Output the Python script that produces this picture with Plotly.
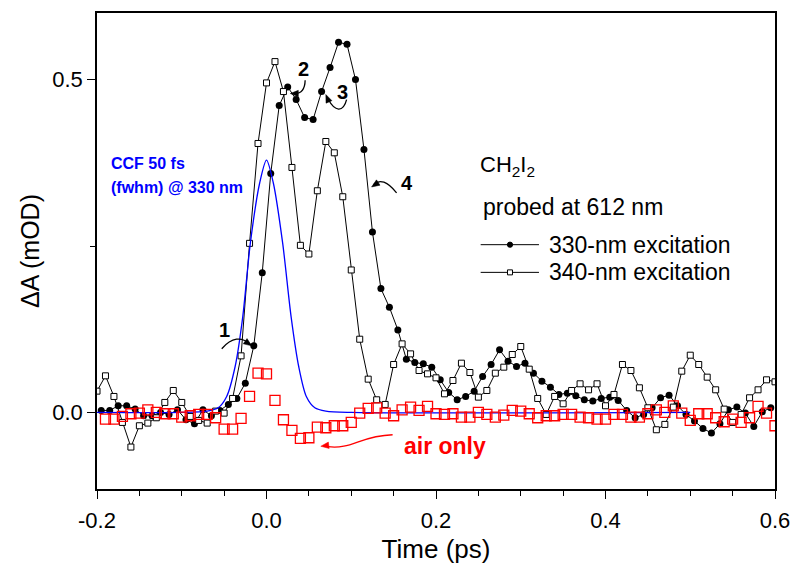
import math
import plotly.graph_objects as go

# ---- 330-nm excitation (filled circles) ----
t330 = [-0.195, -0.185, -0.175, -0.165, -0.155, -0.145, -0.135, -0.125, -0.115, -0.105,
        -0.095, -0.085, -0.075, -0.065, -0.055, -0.045, -0.035, -0.025, -0.015, -0.005,
        0.005, 0.015, 0.025, 0.035, 0.045, 0.055, 0.065, 0.075, 0.085, 0.095,
        0.105, 0.115, 0.125, 0.135, 0.145, 0.155, 0.165, 0.175, 0.185, 0.195,
        0.205, 0.215, 0.225, 0.235, 0.245, 0.255, 0.265, 0.275, 0.285, 0.295,
        0.305, 0.315, 0.325, 0.335, 0.345, 0.355, 0.365, 0.375, 0.385, 0.395,
        0.405, 0.415, 0.425, 0.435, 0.445, 0.455, 0.465, 0.475, 0.485, 0.495,
        0.505, 0.515, 0.525, 0.535, 0.545, 0.555, 0.565, 0.575, 0.585, 0.595]
dA330 = [0.003, 0.003, 0.010, 0.010, 0.005, -0.005, -0.005, 0.000, -0.003, 0.004,
         -0.011, -0.017, 0.004, -0.005, 0.003, 0.012, 0.021, 0.044, 0.100, 0.210,
         0.359, 0.461, 0.489, 0.470, 0.443, 0.440, 0.482, 0.518, 0.556, 0.553,
         0.500, 0.395, 0.271, 0.186, 0.158, 0.124, 0.080, 0.075, 0.073, 0.068,
         0.049, 0.030, 0.019, 0.024, 0.032, 0.054, 0.072, 0.094, 0.077, 0.069,
         0.074, 0.059, 0.047, 0.038, 0.027, 0.029, 0.025, 0.019, 0.017, 0.021,
         0.023, 0.018, 0.003, -0.008, -0.003, 0.007, 0.022, 0.026, 0.010, -0.003,
         -0.013, -0.024, -0.031, -0.017, 0.004, 0.008, -0.001, -0.021, 0.001, 0.007]

# ---- 340-nm excitation (open squares) ----
t340 = [-0.20, -0.19, -0.18, -0.17, -0.16, -0.15, -0.14, -0.13, -0.12, -0.11,
        -0.10, -0.09, -0.08, -0.07, -0.06, -0.05, -0.04, -0.03, -0.02, -0.01,
        0.00, 0.01, 0.02, 0.03, 0.04, 0.05, 0.06, 0.07, 0.08, 0.09,
        0.10, 0.11, 0.12, 0.13, 0.14, 0.15, 0.16, 0.17, 0.18, 0.19,
        0.20, 0.21, 0.22, 0.23, 0.24, 0.25, 0.26, 0.27, 0.28, 0.29,
        0.30, 0.31, 0.32, 0.33, 0.34, 0.35, 0.36, 0.37, 0.38, 0.39,
        0.40, 0.41, 0.42, 0.43, 0.44, 0.45, 0.46, 0.47, 0.48, 0.49,
        0.50, 0.51, 0.52, 0.53, 0.54, 0.55, 0.56, 0.57, 0.58, 0.59, 0.60]
dA340 = [0.032, 0.055, 0.024, -0.015, -0.052, -0.020, -0.016, -0.008, 0.015, 0.033,
         0.015, -0.006, -0.012, -0.016, 0.002, -0.001, 0.021, 0.085, 0.254, 0.404,
         0.495, 0.527, 0.482, 0.368, 0.251, 0.238, 0.333, 0.407, 0.390, 0.324,
         0.214, 0.110, 0.050, 0.019, 0.012, 0.072, 0.103, 0.088, 0.063, 0.058,
         0.052, 0.028, 0.048, 0.074, 0.060, 0.023, 0.033, 0.059, 0.068, 0.087,
         0.099, 0.065, 0.021, -0.003, 0.024, 0.013, 0.033, 0.043, 0.034, 0.043,
         0.010, 0.027, 0.072, 0.063, 0.037, 0.007, -0.026, -0.018, 0.008, 0.062,
         0.086, 0.072, 0.053, 0.034, 0.005, -0.015, -0.003, 0.022, 0.034, 0.049, 0.046]

# ---- air only (red open squares) ----
t_air = [-0.19, -0.18, -0.17, -0.16, -0.15, -0.14, -0.13, -0.12, -0.11, -0.10,
         -0.09, -0.08, -0.07, -0.06, -0.05, -0.04, -0.03, -0.02, -0.01, 0.00,
         0.01, 0.02, 0.03, 0.04, 0.05, 0.06, 0.07, 0.08, 0.09, 0.10,
         0.11, 0.12, 0.13, 0.14, 0.15, 0.16, 0.17, 0.18, 0.19, 0.20,
         0.21, 0.22, 0.23, 0.24, 0.25, 0.26, 0.27, 0.28, 0.29, 0.30,
         0.31, 0.32, 0.33, 0.34, 0.35, 0.36, 0.37, 0.38, 0.39, 0.40,
         0.41, 0.42, 0.43, 0.44, 0.45, 0.46, 0.47, 0.48, 0.49, 0.50,
         0.51, 0.52, 0.53, 0.54, 0.55, 0.56, 0.57, 0.58, 0.59, 0.60]
dA_air = [-0.010, -0.010, -0.006, -0.002, -0.001, 0.004, 0.000, -0.002, -0.002, -0.007,
          -0.005, -0.003, -0.003, -0.008, -0.025, -0.025, -0.009, 0.024, 0.059, 0.058,
          0.018, -0.011, -0.027, -0.039, -0.038, -0.022, -0.023, -0.020, -0.020, -0.015,
          -0.001, 0.006, 0.007, -0.001, -0.005, 0.004, 0.008, 0.003, 0.009, -0.002,
          -0.003, -0.002, -0.007, -0.007, 0.000, -0.003, -0.007, -0.004, 0.003, 0.002,
          -0.002, -0.008, -0.005, -0.005, -0.003, -0.003, -0.007, -0.008, -0.010, -0.010,
          -0.003, -0.003, -0.007, -0.007, -0.002, 0.004, 0.000, 0.010, -0.001, -0.012,
          -0.002, -0.002, -0.008, -0.014, -0.010, -0.015, -0.008, 0.009, -0.001, -0.020]

# ---- cross-correlation function (CCF, 50 fs fwhm) ----
t_ccf = [-0.20, -0.10, -0.07, -0.057, -0.047, -0.037, -0.028, -0.019, -0.008, 0.0,
         0.008, 0.019, 0.029, 0.038, 0.047, 0.057, 0.07, 0.10, 0.50]
ccf = [0.0, 0.0, 0.002, 0.007, 0.024, 0.069, 0.144, 0.255, 0.345, 0.379,
       0.345, 0.255, 0.144, 0.069, 0.024, 0.007, 0.002, 0.0, 0.0]

# ---- axis tick labels ----
x_tickvals = [-0.2, 0.0, 0.2, 0.4, 0.6]
x_ticktext = ["-0.2", "0.0", "0.2", "0.4", "0.6"]
y_tickvals = [0.0, 0.5]
y_ticktext = ["0.0", "0.5"]

# ---- key entries ----
key_labels = ["330-nm excitation", "340-nm excitation"]

FONT = "Liberation Sans, Arial, Helvetica, sans-serif"

fig = go.Figure()

fig.add_trace(go.Scatter(
    x=t330, y=dA330, mode="lines+markers", name=key_labels[0], showlegend=False,
    line=dict(color="black", width=1),
    marker=dict(symbol="circle", size=7, color="black")))

fig.add_trace(go.Scatter(
    x=t340, y=dA340, mode="lines+markers", name=key_labels[1], showlegend=False,
    line=dict(color="black", width=1),
    marker=dict(symbol="square", size=6, color="white",
                line=dict(color="black", width=1))))

fig.add_trace(go.Scatter(
    x=t_ccf, y=ccf, mode="lines", name="CCF", showlegend=False,
    line=dict(color="#0000ff", width=1.3, shape="spline", smoothing=0.8)))

fig.add_trace(go.Scatter(
    x=t_air, y=dA_air, mode="markers", name="air only", showlegend=False,
    marker=dict(symbol="square-open", size=10, color="#ff0000",
                line=dict(color="#ff0000", width=1.3))))

# curved pointer arrows: bezier bodies in data units
curves = [
    ("M-0.0528,0.0957 Q-0.0351,0.1213 -0.0185,0.1017", "black"),
    ("M0.0456,0.499 Q0.0452,0.479 0.0334,0.479", "black"),
    ("M0.0945,0.470 C0.0904,0.450 0.0806,0.452 0.0730,0.470", "black"),
    ("M0.1535,0.3297 Q0.1373,0.3557 0.1261,0.3422", "black"),
    ("M0.1488,-0.0335 C0.1102,-0.0351 0.1007,-0.0561 0.0724,-0.0515", "#ff0000"),
]
for p, col in curves:
    fig.add_shape(type="path", path=p, xref="x", yref="y",
                  line=dict(color=col, width=1.3))


def head_path(dx, dy, length=8.0, half=3.2):
    """Filled triangle (pixel units, y up) with its tip at the anchor, pointing along (dx, dy)."""
    n = math.hypot(dx, dy)
    ux, uy = dx / n, dy / n
    bx, by = -length * ux, -length * uy
    px, py = -uy * half, ux * half
    return "M0,0 L%.2f,%.2f L%.2f,%.2f Z" % (bx + px, by + py, bx - px, by - py)


# arrow tips: anchor in data units, direction in screen pixels (y up)
heads = [
    (-0.0175, 0.100, 7, -5, "black"),
    (0.0281, 0.479, -1, 0, "black"),
    (0.0700, 0.4775, -3, 7, "black"),
    (0.1240, 0.3387, -6, -4, "black"),
    (0.0641, -0.0508, -8, -1, "#ff0000"),
]
for hx, hy, dx, dy, col in heads:
    fig.add_shape(type="path", xref="x", yref="y", xsizemode="pixel", ysizemode="pixel",
                  xanchor=hx, yanchor=hy, path=head_path(dx, dy),
                  fillcolor=col, line=dict(color=col, width=0.5))

labels = [("1", -0.049, 0.124), ("2", 0.044, 0.516),
          ("3", 0.0897, 0.482), ("4", 0.1656, 0.3452)]
for txt, lx, ly in labels:
    fig.add_annotation(x=lx, y=ly, text="<b>%s</b>" % txt, showarrow=False,
                       font=dict(family=FONT, size=20, color="black"))

fig.add_annotation(x=0.2105, y=-0.050, text="<b>air only</b>", showarrow=False,
                   font=dict(family=FONT, size=23, color="#ff0000"))

fig.add_annotation(x=-0.1862, y=0.3738, text="<b>CCF 50 fs</b>", showarrow=False,
                   xanchor="left", font=dict(family=FONT, size=16, color="#0000ff"))
fig.add_annotation(x=-0.1862, y=0.3377, text="<b>(fwhm) @ 330 nm</b>", showarrow=False,
                   xanchor="left", font=dict(family=FONT, size=16, color="#0000ff"))

fig.add_annotation(x=0.2495, y=0.3708, text="CH<sub>2</sub>I<sub>2</sub>", showarrow=False,
                   xanchor="left", font=dict(family=FONT, size=22, color="black"))
fig.add_annotation(x=0.2527, y=0.309, text="probed at 612 nm", showarrow=False,
                   xanchor="left", font=dict(family=FONT, size=23, color="black"))

# key: short line with a small symbol in the middle, then the label
key_rows = [0.252, 0.2104]
key_x0, key_xc, key_x1, key_tx = 0.2527, 0.2873, 0.3215, 0.3309
for i, ky in enumerate(key_rows):
    fig.add_shape(type="line", xref="x", yref="y", x0=key_x0, x1=key_x1, y0=ky, y1=ky,
                  line=dict(color="black", width=1))
    if i == 0:
        fig.add_shape(type="circle", xref="x", yref="y", xsizemode="pixel", ysizemode="pixel",
                      xanchor=key_xc, yanchor=ky, x0=-2.6, x1=2.6, y0=-2.6, y1=2.6,
                      fillcolor="black", line=dict(color="black", width=1))
    else:
        fig.add_shape(type="rect", xref="x", yref="y", xsizemode="pixel", ysizemode="pixel",
                      xanchor=key_xc, yanchor=ky, x0=-2.5, x1=2.5, y0=-2.5, y1=2.5,
                      fillcolor="white", line=dict(color="black", width=1))
    fig.add_annotation(x=key_tx, y=ky, text=key_labels[i], showarrow=False,
                       xanchor="left", yanchor="middle",
                       font=dict(family=FONT, size=23, color="black"))

axis_common = dict(
    showline=True, linecolor="black", linewidth=1.5, mirror=True, automargin=False,
    showgrid=False, zeroline=False, ticks="outside", ticklen=8, tickwidth=1.3,
    tickcolor="black", tickfont=dict(family=FONT, size=22, color="black"),
)

fig.update_xaxes(
    range=[-0.2, 0.6], tickmode="array", tickvals=x_tickvals, ticktext=x_ticktext,
    ticklabelstandoff=3,
    minor=dict(tickmode="linear", tick0=-0.2, dtick=0.05, ticks="outside",
               ticklen=5, tickwidth=1.3, tickcolor="black"),
    title=dict(text="Time (ps)", font=dict(family=FONT, size=26, color="black"), standoff=8),
    **axis_common)
fig.update_yaxes(
    range=[-0.115, 0.6], tickmode="array", tickvals=y_tickvals, ticktext=y_ticktext,
    minor=dict(tickmode="array", tickvals=[0.25], ticks="outside",
               ticklen=5, tickwidth=1.3, tickcolor="black"),
    title=dict(text="\u0394A (mOD)", font=dict(family=FONT, size=25, color="black"), standoff=6),
    **axis_common)

fig.update_layout(
    width=793, height=565,
    margin=dict(l=97, r=18, t=13, b=76),
    paper_bgcolor="white", plot_bgcolor="white",
    font=dict(family=FONT, color="black"),
    showlegend=False,
)

fig.write_html("out.html")
